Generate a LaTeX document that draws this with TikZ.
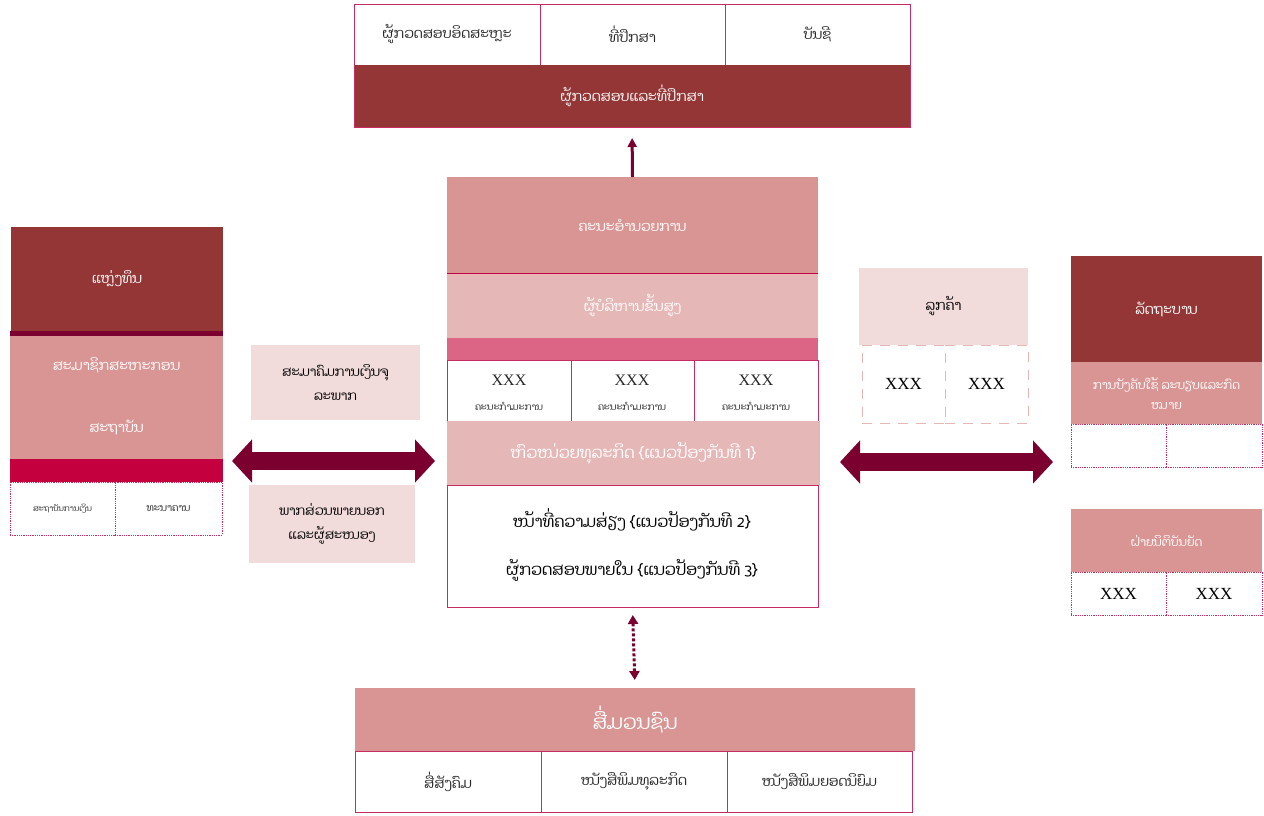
\documentclass[tikz,border=0pt]{standalone}
\usepackage{fontspec}
\setmainfont{Liberation Serif}
\newfontfamily\lao[Script=Lao]{Dhyana}
\usetikzlibrary{arrows.meta}
\definecolor{darkred}{RGB}{148,54,54}
\definecolor{midpink}{RGB}{217,149,148}
\definecolor{litepink}{RGB}{229,184,183}
\definecolor{palepink}{RGB}{242,219,219}
\definecolor{hotpink}{RGB}{220,101,133}
\definecolor{crimsonc}{RGB}{197,0,62}
\definecolor{maroonc}{RGB}{123,0,48}
\definecolor{edgec}{RGB}{200,45,95}
\definecolor{txtgray}{RGB}{40,40,40}
\newcommand\bx[7]{\node[base,#6,minimum width={#4-#2},minimum height={#5-#3}] (#1) at ({(#2+#4)/2},{(#3+#5)/2}) {#7};}
\tikzset{
  base/.style={inner sep=0pt,outer sep=0pt,align=center,font=\lao\fontsize{14}{17}\selectfont},
  big/.style={font=\lao\fontsize{16}{18}\selectfont},
  wcell/.style={draw=edgec,line width=1pt,fill=white,text=txtgray},
  dotcell/.style={draw=edgec,densely dotted,line width=0.8pt,fill=white,text=txtgray},
  dashcell/.style={draw=litepink,dash pattern=on 10pt off 8pt,line width=1pt,fill=white,text=black},
  light/.style={text=white},
  xxx/.style={inner sep=0pt,font=\fontsize{16}{18}\selectfont,text=txtgray},
  sub/.style={inner sep=0pt,font=\lao\fontsize{9.5}{10}\selectfont,text=txtgray},
  bigarrow/.style={draw=maroonc,line width=18pt,{Triangle[width=42pt,length=20pt]}-{Triangle[width=42pt,length=20pt]}},
  thinarrow/.style={draw=maroonc,line width=3pt,-{Triangle[width=9pt,length=9pt]}},
}
\begin{document}
\begin{tikzpicture}[x=1pt,y=-1pt]
\fill[white] (0,0) rectangle (1264,815);
\useasboundingbox (0,0) rectangle (1264,815);
% top
\bx{t1}{354}{4}{540}{65}{wcell}{ຜູ້ກວດສອບອິດສະຫຼະ}
\bx{t2}{540}{4}{725}{65}{wcell}{ທີ່ປຶກສາ}
\bx{t3}{725}{4}{910}{65}{wcell}{ບັນຊີ}
\bx{tb}{354}{65}{910}{127}{fill=darkred,light}{ຜູ້ກວດສອບແລະທີ່ປຶກສາ}
\draw[edgec,line width=1pt] (t1.north west) rectangle (tb.south east);
% center
\bx{c1}{447}{177}{818}{273}{fill=midpink,light}{ຄະນະອຳນວຍການ}
\bx{c2}{447}{273}{818}{338}{fill=litepink,light}{ຜູ້ບໍລິຫານຂັ້ນສູງ}
\draw[crimsonc,line width=1pt] (c1.south west) -- (c1.south east);
\bx{c3}{447}{338}{818}{360}{fill=hotpink}{}
\bx{c4a}{447}{360}{571}{421}{wcell}{}
\bx{c4b}{571}{360}{694}{421}{wcell}{}
\bx{c4c}{694}{360}{818}{421}{wcell}{}
\node[xxx] (x1) at (509,380) {XXX};
\node[xxx] (x2) at (632,380) {XXX};
\node[xxx] (x3) at (756,380) {XXX};
\node[sub] (s1) at (509,406) {ຄະນະກຳມະການ};
\node[sub] (s2) at (632,406) {ຄະນະກຳມະການ};
\node[sub] (s3) at (756,406) {ຄະນະກຳມະການ};
\bx{c5}{447}{421}{820}{485}{fill=litepink,light,big}{ຫົວໜ່ວຍທຸລະກິດ \{ແນວປ້ອງກັນທີ 1\}}
\bx{c6}{447}{485}{818}{607}{wcell}{}
\node[base,big,text=black] (c6a) at (632,520) {ໜ້າທີ່ຄວາມສ່ຽງ \{ແນວປ້ອງກັນທີ 2\}};
\node[base,big,text=black] (c6b) at (632,570) {ຜູ້ກວດສອບພາຍໃນ \{ແນວປ້ອງກັນທີ 3\}};
% bottom
\bx{b0}{355}{688}{915}{751}{fill=midpink,light,font=\lao\fontsize{20}{22}\selectfont}{ສື່ມວນຊົນ}
\bx{b1}{355}{751}{541}{812}{wcell}{ສື່ສັງຄົມ}
\bx{b2}{541}{751}{727}{812}{wcell}{ໜັງສືພິມທຸລະກິດ}
\bx{b3}{727}{751}{912}{812}{wcell}{ໜັງສືພິມຍອດນິຍົມ}
% left column
\bx{l1}{11}{227}{223}{331}{fill=darkred,light}{ແຫຼ່ງທຶນ}
\bx{l2}{10}{331}{223}{336}{fill=maroonc}{}
\bx{l3}{10}{336}{223}{395}{fill=midpink,light}{ສະມາຊິກສະຫະກອນ}
\bx{l4}{10}{395}{223}{459}{fill=midpink,light}{ສະຖາບັນ}
\bx{l5}{10}{459}{223}{482}{fill=crimsonc}{}
\bx{l6}{10}{482}{115}{535}{dotcell,font=\lao\fontsize{8}{9}\selectfont}{ສະຖາບັນການເງິນ}
\bx{l7}{115}{482}{222}{535}{dotcell,font=\lao\fontsize{10}{11}\selectfont}{ທະນາຄານ}
% middle left
\bx{m1}{251}{345}{420}{420}{fill=palepink,text=black,font=\lao\fontsize{13}{24}\selectfont}{ສະມາຄົມການເງິນຈຸ\\ລະພາກ}
\bx{m2}{249}{485}{415}{563}{fill=palepink,text=black,font=\lao\fontsize{13}{24}\selectfont}{ພາກສ່ວນພາຍນອກ\\ແລະຜູ້ສະໜອງ}
\coordinate (aL1) at (232,461);
\coordinate (aL2) at (435,461);
\draw[bigarrow] (aL1) -- (aL2);
% right
\bx{r1}{859}{268}{1028}{345}{fill=palepink,text=black}{ລູກຄ້າ}
\bx{r2}{862}{345}{945}{423}{dashcell,font=\fontsize{17}{19}\selectfont}{XXX}
\bx{r3}{945}{345}{1028}{423}{dashcell,font=\fontsize{17}{19}\selectfont}{XXX}
\coordinate (aR1) at (840,462);
\coordinate (aR2) at (1053,462);
\draw[bigarrow] (aR1) -- (aR2);
% far right
\bx{g1}{1071}{256}{1262}{362}{fill=darkred,light}{ລັດຖະບານ}
\bx{g2}{1071}{362}{1262}{424}{fill=midpink,light,font=\lao\fontsize{12}{20}\selectfont}{ການບັງຄັບໃຊ້ ລະບຽບແລະກົດ\\ໝາຍ}
\bx{g3}{1071}{424}{1166}{467}{dotcell}{}
\bx{g4}{1166}{424}{1262}{467}{dotcell}{}
\bx{g5}{1071}{509}{1262}{572}{fill=midpink,light,font=\lao\fontsize{12}{14}\selectfont}{ຝ່າຍນິຕິບັນຍັດ}
\bx{g6}{1071}{572}{1166}{615}{dotcell,text=black,font=\fontsize{17}{19}\selectfont}{XXX}
\bx{g7}{1166}{572}{1262}{615}{dotcell,text=black,font=\fontsize{17}{19}\selectfont}{XXX}
% connectors
\draw[thinarrow,shorten >=11pt] (c1.north) -- (tb.south);
\draw[draw=maroonc,line width=3pt,dotted,{Triangle[width=10pt,length=9pt]}-{Triangle[width=10pt,length=9pt]},shorten <=8pt,shorten >=8pt] (c6.south) -- (b0.north);
\end{tikzpicture}
\end{document}
